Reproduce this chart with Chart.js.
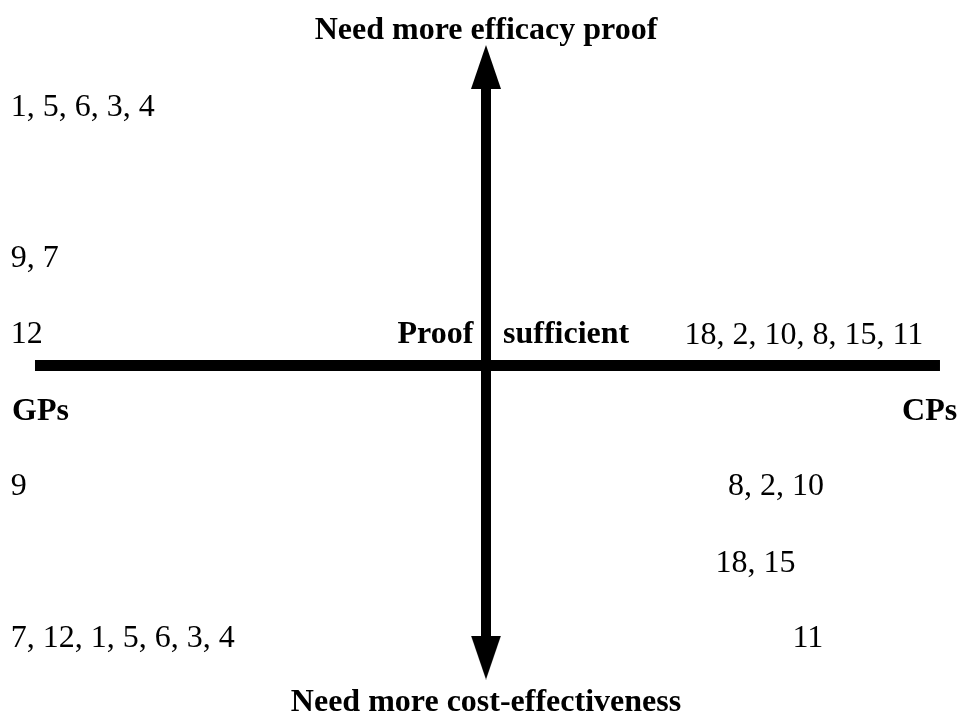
<!DOCTYPE html>
<html>
<head>
<meta charset="utf-8">
<script src="https://cdn.jsdelivr.net/npm/chart.js@4.4.1/dist/chart.umd.min.js"></script>
<style>
  html, body { margin: 0; padding: 0; background: #fff; }
  #wrap { position: relative; width: 960px; height: 723px; }
</style>
</head>
<body>
<div id="wrap"><canvas id="chart"></canvas></div>
<script>
'use strict';

// axis lines (x: GPs <-> CPs, y: cost-effectiveness <-> efficacy)
const xAxisLine = [{ x: -9.396, y: 0 }, { x: 9.458, y: 0 }];
const yAxisLine = [{ x: 0, y: 3.67 }, { x: 0, y: -3.6 }];
const arrowHeads = [{ x: 0, y: 3.954 }, { x: 0, y: -3.868 }];

// numbered responses per quadrant
const groupTexts = [
  '1, 5, 6, 3, 4', '9, 7', '12',
  '18, 2, 10, 8, 15, 11',
  '9', '7, 12, 1, 5, 6, 3, 4',
  '8, 2, 10', '18, 15', '11'
];
const groupX = [-9.9, -9.9, -9.9, 4.135, -9.9, -9.9, 5.04, 4.78, 6.385];
const groupY = [3.3, 1.3, 0.3, 0.285, -1.72, -3.73, -1.72, -2.73, -3.73];

// bold headings
const headTexts = ['Need more efficacy proof', 'Need more cost-effectiveness', 'Proof', 'sufficient', 'GPs', 'CPs'];
const headX = [0, 0, -1.844, 0.354, -9.875, 8.667];
const headY = [4.325, -4.576, 0.3, 0.3, -0.72, -0.72];
const headAlign = ['center', 'center', 'left', 'left', 'left', 'left'];

function toPoints(xs, ys) {
  return xs.map((x, i) => ({ x: x, y: ys[i] }));
}

// arrowhead shape (taller than an equilateral triangle)
function makeHead() {
  const c = document.createElement('canvas');
  c.width = 30;
  c.height = 44;
  const g = c.getContext('2d');
  g.fillStyle = '#000';
  g.beginPath();
  g.moveTo(15, 0);
  g.lineTo(30, 44);
  g.lineTo(0, 44);
  g.closePath();
  g.fill();
  return c;
}
const head = makeHead();

const textPlugin = {
  id: 'textLabels',
  afterDatasetsDraw(chart) {
    const ctx = chart.ctx;
    ctx.save();
    ctx.fillStyle = '#000';
    ctx.textBaseline = 'alphabetic';
    chart.data.datasets.forEach((ds, i) => {
      if (!ds.texts) return;
      const meta = chart.getDatasetMeta(i);
      ctx.font = (ds.bold ? 'bold ' : '') + '32px "Liberation Serif", "Times New Roman", serif';
      meta.data.forEach((pt, j) => {
        ctx.textAlign = ds.align ? ds.align[j] : 'left';
        ctx.fillText(ds.texts[j], pt.x, pt.y);
      });
    });
    ctx.restore();
  }
};

new Chart(document.getElementById('chart'), {
  type: 'scatter',
  data: {
    datasets: [
      {
        data: xAxisLine,
        showLine: true,
        borderColor: '#000',
        borderWidth: 11,
        pointRadius: 0
      },
      {
        data: yAxisLine,
        showLine: true,
        borderColor: '#000',
        borderWidth: 10,
        pointRadius: 0
      },
      {
        data: arrowHeads,
        pointStyle: head,
        pointRotation: [0, 180],
        pointRadius: 10
      },
      {
        data: toPoints(groupX, groupY),
        texts: groupTexts,
        pointRadius: 0
      },
      {
        data: toPoints(headX, headY),
        texts: headTexts,
        align: headAlign,
        bold: true,
        pointRadius: 0
      }
    ]
  },
  options: {
    responsive: true,
    maintainAspectRatio: false,
    animation: false,
    layout: { padding: 0, autoPadding: false },
    clip: false,
    scales: {
      x: { type: 'linear', min: -10.125, max: 9.875, display: false },
      y: { type: 'linear', min: -4.735, max: 4.841, display: false }
    },
    plugins: {
      legend: { display: false },
      tooltip: { enabled: false }
    }
  },
  plugins: [textPlugin]
});
</script>
</body>
</html>
